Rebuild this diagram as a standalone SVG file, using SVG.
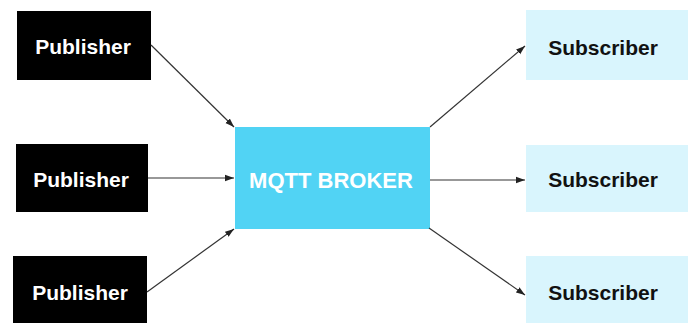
<svg xmlns="http://www.w3.org/2000/svg" width="690" height="323" viewBox="0 0 690 323">
  <style>
    .pub rect { fill: #000000; }
    .pub text { fill: #ffffff; font: bold 21px "Liberation Sans", Arial, sans-serif; text-anchor: middle; }
    .sub rect { fill: #d9f5fd; }
    .sub text { fill: #111111; font: bold 21px "Liberation Sans", Arial, sans-serif; text-anchor: middle; }
    .broker rect { fill: #51d3f4; }
    .broker text { fill: #ffffff; font: bold 22px "Liberation Sans", Arial, sans-serif; text-anchor: middle; }
    .edge { stroke: #333333; stroke-width: 1.2; fill: none; marker-end: url(#arrow); }
  </style>
  <defs>
    <marker id="arrow" markerUnits="userSpaceOnUse" markerWidth="10" markerHeight="8" refX="9" refY="4" orient="auto">
      <path d="M0,0.8 L9,4 L0,7.2 Z" fill="#222222"/>
    </marker>
  </defs>
  <rect width="690" height="323" fill="#ffffff"/>

  <g id="publisher-1" class="pub">
    <rect x="17" y="11" width="134" height="69"/>
    <text x="83" y="54">Publisher</text>
  </g>
  <g id="publisher-2" class="pub">
    <rect x="16" y="144" width="132" height="68"/>
    <text x="81" y="187">Publisher</text>
  </g>
  <g id="publisher-3" class="pub">
    <rect x="13" y="256" width="134" height="70"/>
    <text x="80" y="300">Publisher</text>
  </g>

  <g id="broker" class="broker">
    <rect x="235" y="127" width="195" height="102"/>
    <text x="331" y="188">MQTT BROKER</text>
  </g>

  <g id="subscriber-1" class="sub">
    <rect x="526" y="10" width="162" height="70"/>
    <text x="603" y="55">Subscriber</text>
  </g>
  <g id="subscriber-2" class="sub">
    <rect x="526" y="145" width="162" height="67"/>
    <text x="603" y="187">Subscriber</text>
  </g>
  <g id="subscriber-3" class="sub">
    <rect x="526" y="256" width="162" height="70"/>
    <text x="603" y="300">Subscriber</text>
  </g>

  <g id="connectors">
    <line class="edge" x1="151" y1="45" x2="234" y2="127"/>
    <line class="edge" x1="148" y1="178" x2="234" y2="178"/>
    <line class="edge" x1="147" y1="292" x2="234" y2="229"/>
    <line class="edge" x1="430" y1="127" x2="525" y2="46"/>
    <line class="edge" x1="430" y1="180" x2="525" y2="180"/>
    <line class="edge" x1="429" y1="228" x2="525" y2="295"/>
  </g>
</svg>
